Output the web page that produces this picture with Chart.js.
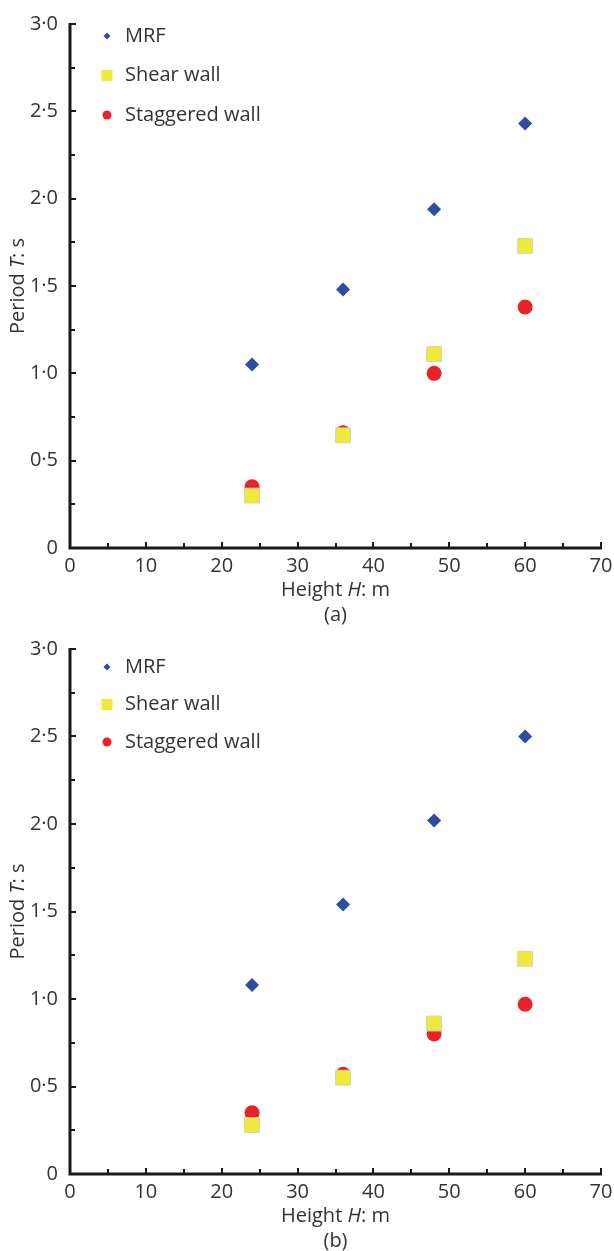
<!DOCTYPE html>
<html>
<head>
<meta charset="utf-8">
<script src="https://cdn.jsdelivr.net/npm/chart.js@4"></script>
<style>
  html, body { margin: 0; padding: 0; background: #fff; }
  canvas { display: block; }
</style>
</head>
<body>
<canvas id="chartA" width="614" height="625"></canvas>
<canvas id="chartB" width="614" height="626"></canvas>
<script>
// --- Data ---
const heights = [24, 36, 48, 60];
const seriesNames = ['MRF', 'Shear wall', 'Staggered wall'];

// panel (a)
const mrfA = [1.05, 1.48, 1.94, 2.43];
const shearA = [0.30, 0.645, 1.11, 1.73];
const staggeredA = [0.35, 0.66, 1.00, 1.38];

// panel (b)
const mrfB = [1.08, 1.54, 2.02, 2.50];
const shearB = [0.28, 0.55, 0.86, 1.23];
const staggeredB = [0.35, 0.57, 0.80, 0.97];

const xTicksMajor = [0, 10, 20, 30, 40, 50, 60, 70];
const yTicksMajor = [0, 0.5, 1.0, 1.5, 2.0, 2.5, 3.0];

const FONT = '"Open Sans", "DejaVu Sans", sans-serif';
const FS = 20;
const TEXT = '#333333';

const styles = [
    { pointStyle: 'rectRot', radius: 7, bg: '#2e4d9f', border: '#2e4d9f', lw: 0 },
    { pointStyle: 'rect', radius: 10.5, bg: '#eeea3c', border: '#d6d4a8', lw: 1 },
    { pointStyle: 'circle', radius: 7.5, bg: '#e82228', border: '#e82228', lw: 0 }
];

function toPoints(values) {
    return heights.map((h, i) => ({ x: h, y: values[i] }));
}

// axes lines, inward ticks, titles, legend
const decoPlugin = {
    id: 'deco',
    afterDraw(chart, args, opts) {
        const { ctx, chartArea: a, scales: { x, y } } = chart;
        ctx.save();
        ctx.strokeStyle = '#1a1a1a';

        // ticks (inward)
        ctx.lineWidth = 2;
        ctx.beginPath();
        y.ticks.forEach(t => {
            const py = Math.round(y.getPixelForValue(t.value));
            const len = yTicksMajor.some(v => Math.abs(v - t.value) < 1e-6) ? 6 : 5;
            ctx.moveTo(a.left, py);
            ctx.lineTo(a.left + len, py);
        });
        x.ticks.forEach(t => {
            const px = Math.round(x.getPixelForValue(t.value));
            const len = xTicksMajor.includes(t.value) ? 6 : 5;
            ctx.moveTo(px, a.bottom);
            ctx.lineTo(px, a.bottom - len);
        });
        ctx.stroke();

        // axis lines
        ctx.lineWidth = 3;
        ctx.beginPath();
        ctx.moveTo(a.left, a.top - 1);
        ctx.lineTo(a.left, a.bottom);
        ctx.lineTo(a.right + 1, a.bottom);
        ctx.stroke();

        // x title with italic H
        ctx.fillStyle = TEXT;
        ctx.textBaseline = 'middle';
        const parts = [['Height ', 'normal'], ['H', 'italic'], [': m', 'normal']];
        let total = 0;
        parts.forEach(p => { ctx.font = p[1] + ' ' + FS + 'px ' + FONT; total += ctx.measureText(p[0]).width; });
        let cx = (a.left + a.right) / 2 - total / 2;
        const ty = a.bottom + 42;
        ctx.textAlign = 'left';
        parts.forEach(p => {
            ctx.font = p[1] + ' ' + FS + 'px ' + FONT;
            ctx.fillText(p[0], cx, ty);
            cx += ctx.measureText(p[0]).width;
        });

        // caption
        ctx.font = FS + 'px ' + FONT;
        ctx.textAlign = 'center';
        ctx.fillText(opts.caption, (a.left + a.right) / 2, a.bottom + 67);

        // y title with italic T
        ctx.save();
        ctx.translate(18, (a.top + a.bottom) / 2);
        ctx.rotate(-Math.PI / 2);
        const yparts = [['Period ', 'normal'], ['T', 'italic'], [': s', 'normal']];
        total = 0;
        yparts.forEach(p => { ctx.font = p[1] + ' ' + FS + 'px ' + FONT; total += ctx.measureText(p[0]).width; });
        cx = -total / 2;
        ctx.textAlign = 'left';
        yparts.forEach(p => {
            ctx.font = p[1] + ' ' + FS + 'px ' + FONT;
            ctx.fillText(p[0], cx, 0);
            cx += ctx.measureText(p[0]).width;
        });
        ctx.restore();

        // legend inside plot
        const legendSizes = [3.5, 5.5, 4.5];
        seriesNames.forEach((name, i) => {
            const ly = a.top + opts.legendTop + i * opts.legendGap;
            const mx = a.left + 37;
            const s = styles[i];
            ctx.fillStyle = s.bg;
            ctx.beginPath();
            const r = legendSizes[i];
            if (s.pointStyle === 'rectRot') {
                ctx.moveTo(mx, ly - r); ctx.lineTo(mx + r, ly); ctx.lineTo(mx, ly + r); ctx.lineTo(mx - r, ly);
                ctx.closePath();
            } else if (s.pointStyle === 'rect') {
                ctx.rect(mx - r, ly - r, 2 * r, 2 * r);
            } else {
                ctx.arc(mx, ly, r, 0, Math.PI * 2);
            }
            ctx.fill();
            ctx.fillStyle = TEXT;
            ctx.font = FS + 'px ' + FONT;
            ctx.textAlign = 'left';
            ctx.fillText(name, a.left + 55, ly);
        });
        ctx.restore();
    }
};

function makeChart(id, mrf, shear, staggered, caption, topPad, legendTop, legendGap, canvasH) {
    const values = [mrf, shear, staggered];
    new Chart(document.getElementById(id).getContext('2d'), {
        type: 'scatter',
        data: {
            datasets: seriesNames.map((name, i) => ({
                label: name,
                data: toPoints(values[i]),
                pointStyle: styles[i].pointStyle,
                pointRadius: styles[i].radius,
                pointHoverRadius: styles[i].radius,
                backgroundColor: styles[i].bg,
                borderColor: styles[i].border,
                borderWidth: styles[i].lw
            }))
        },
        options: {
            responsive: false,
            animation: false,
            devicePixelRatio: 1,
            layout: { padding: { left: 0, top: topPad, right: 13, bottom: 0 } },
            plugins: {
                legend: { display: false },
                tooltip: { enabled: false },
                deco: { caption: caption, legendTop: legendTop, legendGap: legendGap }
            },
            scales: {
                x: {
                    type: 'linear',
                    min: 0, max: 70,
                    grid: { display: false, drawTicks: false },
                    border: { display: false },
                    afterFit: s => {
                        s.height = canvasH - 548 + (id === 'chartB' ? -1 : 0);
                        s.paddingRight = 0;
                        s.paddingLeft = 0;
                    },
                    ticks: {
                        stepSize: 5,
                        autoSkip: false,
                        padding: 6,
                        maxRotation: 0,
                        color: TEXT,
                        font: { family: FONT, size: FS },
                        callback: v => xTicksMajor.includes(v) ? String(v) : ''
                    }
                },
                y: {
                    type: 'linear',
                    min: 0, max: 3,
                    grid: { display: false, drawTicks: false },
                    border: { display: false },
                    afterFit: s => { s.width = 70; },
                    ticks: {
                        stepSize: 0.25,
                        autoSkip: false,
                        padding: 12,
                        color: TEXT,
                        font: { family: FONT, size: FS },
                        callback: v => {
                            if (!yTicksMajor.some(m => Math.abs(m - v) < 1e-6)) return '';
                            return v === 0 ? '0' : v.toFixed(1).replace('.', '\u00b7');
                        }
                    }
                }
            }
        },
        plugins: [decoPlugin]
    });
}

makeChart('chartA', mrfA, shearA, staggeredA, '(a)', 21, 12, 39.5, 625);
makeChart('chartB', mrfB, shearB, staggeredB, '(b)', 18, 18, 37.5, 626);
</script>
</body>
</html>
